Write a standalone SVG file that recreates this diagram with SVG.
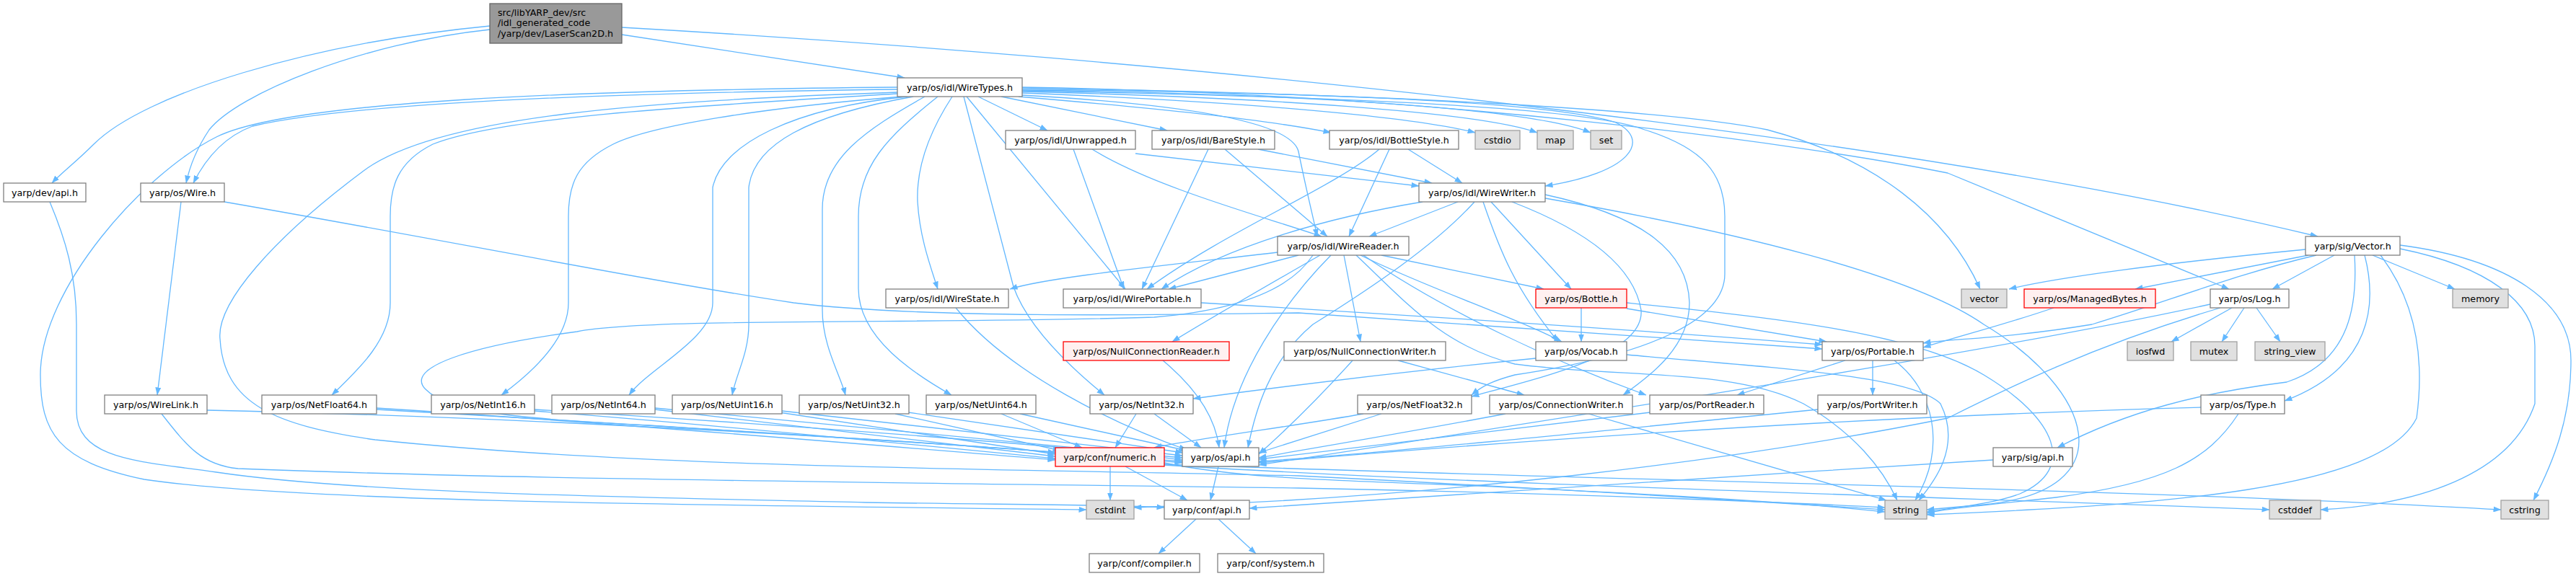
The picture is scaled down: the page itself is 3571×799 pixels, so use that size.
<svg xmlns="http://www.w3.org/2000/svg" width="3571" height="799" viewBox="0 0 3571 799">
<style>
.node rect{fill:#ffffff;stroke:#808080;stroke-width:1.3}
.node.ext rect{fill:#e0e0e0;stroke:#a0a0a0}
.node.trunc rect{fill:#fff0f0;stroke:#ff0000}
.node.root rect{fill:#999999;stroke:#666666}
.node text{font-family:"DejaVu Sans","Liberation Sans",sans-serif;font-size:12.7px;fill:#000000;text-anchor:middle}
.node.root text{text-anchor:start}
.edges path{fill:none;stroke:#63b8ff;stroke-width:1.3;marker-end:url(#arr)}
</style>
<defs>
<marker id="arr" viewBox="0 0 11 8" refX="10.5" refY="4" markerWidth="11" markerHeight="8" orient="auto" markerUnits="userSpaceOnUse"><path d="M0,0 L11,4 L0,8 z" fill="#63b8ff" stroke="none"/></marker>
</defs>
<rect width="3571" height="799" fill="#ffffff"/>
<g class="edges" id="edges">
<path d="M679,36 C430,60 200,130 130,200 C105,225 85,240 72,254"/>
<path d="M679,41 C500,60 330,130 290,180 C270,210 262,235 258,254"/>
<path d="M862,48 L1254,108"/>
<path d="M862,38 C1600,80 2600,180 3213,328"/>
<path d="M69,280 C90,330 106,380 106,450 L106,570 C106,640 200,640 300,655 C500,685 900,690 1200,697 C1400,700 1550,700 1614,704"/>
<path d="M251,280 L218,548"/>
<path d="M311,280 C600,330 900,390 1100,420 C1300,445 1700,435 1800,434 L2526,484"/>
<path d="M1244,124 C900,128 500,140 350,175 C310,190 285,220 268,254"/>
<path d="M1244,121 C800,125 400,140 300,190 C200,240 56,400 56,520 C56,600 80,640 200,665 C400,695 900,700 1506,707"/>
<path d="M1244,128 C900,140 600,160 500,240 C380,330 300,420 305,470 C310,560 380,590 520,610 C900,650 1400,650 1800,660 C2200,680 2500,700 2613,707"/>
<path d="M1244,130 C1000,145 700,160 600,200 C550,225 541,260 541,300 L541,420 C541,470 500,510 460,548"/>
<path d="M1250,134 C1050,150 900,175 850,200 C800,225 788,255 788,300 L788,420 C788,470 740,515 695,548"/>
<path d="M1258,134 C1100,150 1000,200 988,260 L988,420 C988,470 900,510 872,548"/>
<path d="M1266,134 C1120,160 1045,200 1038,260 L1038,450 C1038,490 1020,520 1015,548"/>
<path d="M1282,134 C1200,180 1140,220 1140,290 L1140,430 C1140,480 1165,520 1172,548"/>
<path d="M1300,134 C1230,190 1190,230 1190,300 L1190,400 C1190,470 1270,520 1319,548"/>
<path d="M1320,134 C1290,180 1270,230 1272,280 C1275,330 1290,370 1300,401"/>
<path d="M1336,134 L1405,398 C1420,440 1460,490 1531,548"/>
<path d="M1340,134 L1560,401"/>
<path d="M1356,134 L1452,181"/>
<path d="M1388,134 L1618,181"/>
<path d="M1412,134 C1600,150 1750,165 1845,184"/>
<path d="M1417,129 C1700,140 1950,160 2045,184"/>
<path d="M1417,127 C1750,135 2050,155 2131,184"/>
<path d="M1417,125 C1800,130 2120,150 2205,184"/>
<path d="M1417,124 C1800,128 2150,140 2240,170 C2290,195 2260,240 2142,258"/>
<path d="M1417,122 C1900,130 2300,150 2450,180 C2600,220 2700,300 2745,401"/>
<path d="M1417,121 C2000,130 2500,200 2700,240 L3090,401"/>
<path d="M1417,126 C1900,135 2200,150 2280,180 C2360,205 2391,240 2391,300 L2391,380 C2391,440 2300,490 2100,520 C2070,528 2055,535 2040,548"/>
<path d="M1417,132 C1650,145 1790,170 1800,210 C1810,260 1820,300 1826,328"/>
<path d="M1744,207 L1985,254"/>
<path d="M1574,213 L1967,258"/>
<path d="M1952,207 L2027,254"/>
<path d="M1926,207 L1870,328"/>
<path d="M1912,207 C1850,260 1700,320 1590,401"/>
<path d="M1698,207 L1840,328"/>
<path d="M1675,207 L1583,401"/>
<path d="M1514,207 C1600,260 1750,300 1832,328"/>
<path d="M1488,207 L1558,401"/>
<path d="M2021,280 L1898,328"/>
<path d="M1972,280 C1850,300 1700,340 1610,401"/>
<path d="M2067,280 L2178,401"/>
<path d="M2056,280 C2080,350 2100,400 2160,474"/>
<path d="M2142,275 C2400,320 2650,380 2750,450 C2900,540 2950,680 2750,700 L2671,707"/>
<path d="M2142,270 C2280,300 2340,350 2342,420 C2342,480 2290,520 2250,548"/>
<path d="M2096,280 C2200,320 2265,370 2275,430 C2280,490 2150,520 2040,550"/>
<path d="M2044,280 C1990,340 1900,400 1820,450 C1760,500 1740,570 1730,621"/>
<path d="M1771,350 C1600,370 1450,385 1400,401"/>
<path d="M1800,354 L1620,401"/>
<path d="M1830,354 C1750,400 1680,440 1625,474"/>
<path d="M1863,354 L1886,474"/>
<path d="M1915,354 L2140,401"/>
<path d="M1886,354 C1980,400 2100,440 2165,474"/>
<path d="M1890,354 C2000,430 2150,500 2282,548"/>
<path d="M1880,354 C1950,420 2000,480 2100,505 C2250,525 2400,510 2500,560 C2570,600 2610,650 2630,694"/>
<path d="M1845,354 C1780,420 1710,520 1697,621"/>
<path d="M1820,354 C1790,400 1720,430 1600,440 C1300,450 900,440 800,460 C650,480 560,510 590,540 C620,570 700,580 900,590 C1200,610 1400,620 1463,628"/>
<path d="M2192,427 L2192,474"/>
<path d="M2255,428 L2532,474"/>
<path d="M2255,420 C2450,440 2650,460 2750,520 C2850,580 2880,650 2800,685 C2760,700 2700,705 2671,710"/>
<path d="M2129,497 C1900,520 1750,540 1654,553"/>
<path d="M2255,492 C2450,510 2650,520 2690,560 C2720,620 2680,670 2660,694"/>
<path d="M2626,500 C2680,540 2700,620 2655,694"/>
<path d="M2558,500 L2408,548"/>
<path d="M2596,500 L2596,548"/>
<path d="M1938,500 L2113,548"/>
<path d="M1875,500 C1830,550 1790,590 1745,630"/>
<path d="M2202,574 L2615,694"/>
<path d="M2087,574 C1950,600 1800,625 1745,635"/>
<path d="M2288,572 C2050,600 1850,625 1745,637"/>
<path d="M2520,568 C2200,600 1900,630 1745,640"/>
<path d="M1915,574 L1745,628"/>
<path d="M1890,574 C1800,590 1650,610 1600,621"/>
<path d="M3051,565 C2500,580 2000,620 1745,642"/>
<path d="M3103,574 C3060,640 3000,670 2850,690 C2760,700 2700,705 2671,712"/>
<path d="M3064,422 C2800,480 2300,560 1745,645"/>
<path d="M3078,427 C2900,480 2780,540 2700,580 C2400,640 2000,690 1572,704"/>
<path d="M3094,427 L3010,474"/>
<path d="M3111,427 L3080,474"/>
<path d="M3128,427 L3161,474"/>
<path d="M2847,427 C2780,450 2720,465 2666,482"/>
<path d="M3196,346 C3000,365 2850,385 2785,401"/>
<path d="M3200,354 L2960,401"/>
<path d="M3211,354 C3100,380 3000,420 2900,450 C2780,470 2700,470 2666,476"/>
<path d="M3236,354 L3150,401"/>
<path d="M3289,354 L3403,401"/>
<path d="M3264,354 C3268,420 3260,500 3170,530 C3050,545 2950,570 2852,621"/>
<path d="M3278,354 C3295,420 3290,510 3167,556"/>
<path d="M3300,354 C3350,420 3361,500 3350,580 C3300,680 3000,700 2671,714"/>
<path d="M3327,345 C3450,370 3514,420 3514,480 L3514,560 C3480,660 3350,700 3217,707"/>
<path d="M3327,340 C3480,360 3564,420 3564,500 C3564,580 3540,640 3512,694"/>
<path d="M2763,638 C2400,660 2000,690 1732,705"/>
<path d="M1575,574 L1546,621"/>
<path d="M1600,574 L1665,621"/>
<path d="M1612,500 C1660,540 1685,580 1690,621"/>
<path d="M1388,574 L1500,621"/>
<path d="M1414,574 L1645,625"/>
<path d="M1241,574 L1470,625"/>
<path d="M1259,572 L1640,628"/>
<path d="M1080,572 L1463,630"/>
<path d="M1084,570 L1639,632"/>
<path d="M908,568 L1463,633"/>
<path d="M908,566 L1639,635"/>
<path d="M741,570 C1000,590 1300,620 1463,636"/>
<path d="M741,568 C1100,590 1500,620 1639,638"/>
<path d="M522,566 C900,590 1300,625 1463,638"/>
<path d="M522,568 C1000,595 1450,625 1639,640"/>
<path d="M287,569 C800,580 1400,620 1639,642"/>
<path d="M224,574 C260,620 280,645 330,650 C700,665 1300,670 1800,677 C2200,685 2500,698 2613,704"/>
<path d="M1325,427 C1400,520 1550,590 1645,624"/>
<path d="M1665,420 C2000,440 2300,460 2526,478"/>
<path d="M1689,647 L1678,694"/>
<path d="M1560,647 L1646,694"/>
<path d="M1539,647 L1539,694"/>
<path d="M1614,642 C1700,660 1800,665 2000,672 C2300,685 2500,698 2613,710"/>
<path d="M1614,645 C2000,670 2700,690 3146,707"/>
<path d="M1614,644 C2200,665 3000,680 3467,707"/>
<path d="M1658,720 L1606,768"/>
<path d="M1689,720 L1741,768"/>
</g>
<g id="n_root" class="node root"><rect x="679" y="5" width="183" height="55"/><text x="690" y="21.5">src/libYARP_dev/src</text><text x="690" y="36">/idl_generated_code</text><text x="690" y="50.5">/yarp/dev/LaserScan2D.h</text></g>
<g id="n_devapi" class="node"><rect x="5" y="254" width="114" height="26"/><text x="62" y="271.5">yarp/dev/api.h</text></g>
<g id="n_wire" class="node"><rect x="195" y="254" width="116" height="26"/><text x="253" y="271.5">yarp/os/Wire.h</text></g>
<g id="n_wiretypes" class="node"><rect x="1244" y="108" width="173" height="26"/><text x="1330.5" y="125.5">yarp/os/idl/WireTypes.h</text></g>
<g id="n_unwrapped" class="node"><rect x="1394" y="181" width="180" height="26"/><text x="1484" y="198.5">yarp/os/idl/Unwrapped.h</text></g>
<g id="n_barestyle" class="node"><rect x="1597" y="181" width="170" height="26"/><text x="1682" y="198.5">yarp/os/idl/BareStyle.h</text></g>
<g id="n_bottlestyle" class="node"><rect x="1843" y="181" width="179" height="26"/><text x="1932.5" y="198.5">yarp/os/idl/BottleStyle.h</text></g>
<g id="n_cstdio" class="node ext"><rect x="2045" y="181" width="62" height="26"/><text x="2076" y="198.5">cstdio</text></g>
<g id="n_map" class="node ext"><rect x="2131" y="181" width="50" height="26"/><text x="2156" y="198.5">map</text></g>
<g id="n_set" class="node ext"><rect x="2205" y="181" width="43" height="26"/><text x="2226.5" y="198.5">set</text></g>
<g id="n_wirewriter" class="node"><rect x="1967" y="254" width="175" height="26"/><text x="2054.5" y="271.5">yarp/os/idl/WireWriter.h</text></g>
<g id="n_wirereader" class="node"><rect x="1771" y="328" width="182" height="26"/><text x="1862" y="345.5">yarp/os/idl/WireReader.h</text></g>
<g id="n_sigvector" class="node"><rect x="3196" y="328" width="131" height="26"/><text x="3261.5" y="345.5">yarp/sig/Vector.h</text></g>
<g id="n_wirestate" class="node"><rect x="1228" y="401" width="170" height="26"/><text x="1313" y="418.5">yarp/os/idl/WireState.h</text></g>
<g id="n_wireportable" class="node"><rect x="1474" y="401" width="191" height="26"/><text x="1569.5" y="418.5">yarp/os/idl/WirePortable.h</text></g>
<g id="n_bottle" class="node trunc"><rect x="2129" y="401" width="126" height="26"/><text x="2192" y="418.5">yarp/os/Bottle.h</text></g>
<g id="n_vector" class="node ext"><rect x="2719" y="401" width="63" height="26"/><text x="2750.5" y="418.5">vector</text></g>
<g id="n_managedbytes" class="node trunc"><rect x="2806" y="401" width="182" height="26"/><text x="2897" y="418.5">yarp/os/ManagedBytes.h</text></g>
<g id="n_log" class="node"><rect x="3064" y="401" width="109" height="26"/><text x="3118.5" y="418.5">yarp/os/Log.h</text></g>
<g id="n_memory" class="node ext"><rect x="3400" y="401" width="77" height="26"/><text x="3438.5" y="418.5">memory</text></g>
<g id="n_nullconnreader" class="node trunc"><rect x="1474" y="474" width="230" height="26"/><text x="1589" y="491.5">yarp/os/NullConnectionReader.h</text></g>
<g id="n_nullconnwriter" class="node"><rect x="1780" y="474" width="224" height="26"/><text x="1892" y="491.5">yarp/os/NullConnectionWriter.h</text></g>
<g id="n_vocab" class="node"><rect x="2129" y="474" width="126" height="26"/><text x="2192" y="491.5">yarp/os/Vocab.h</text></g>
<g id="n_portable" class="node"><rect x="2526" y="474" width="140" height="26"/><text x="2596" y="491.5">yarp/os/Portable.h</text></g>
<g id="n_iosfwd" class="node ext"><rect x="2949" y="474" width="64" height="26"/><text x="2981" y="491.5">iosfwd</text></g>
<g id="n_mutex" class="node ext"><rect x="3037" y="474" width="64" height="26"/><text x="3069" y="491.5">mutex</text></g>
<g id="n_stringview" class="node ext"><rect x="3126" y="474" width="97" height="26"/><text x="3174.5" y="491.5">string_view</text></g>
<g id="n_wirelink" class="node"><rect x="145" y="548" width="142" height="26"/><text x="216" y="565.5">yarp/os/WireLink.h</text></g>
<g id="n_netfloat64" class="node"><rect x="363" y="548" width="159" height="26"/><text x="442.5" y="565.5">yarp/os/NetFloat64.h</text></g>
<g id="n_netint16" class="node"><rect x="598" y="548" width="143" height="26"/><text x="669.5" y="565.5">yarp/os/NetInt16.h</text></g>
<g id="n_netint64" class="node"><rect x="765" y="548" width="143" height="26"/><text x="836.5" y="565.5">yarp/os/NetInt64.h</text></g>
<g id="n_netuint16" class="node"><rect x="932" y="548" width="152" height="26"/><text x="1008" y="565.5">yarp/os/NetUint16.h</text></g>
<g id="n_netuint32" class="node"><rect x="1108" y="548" width="152" height="26"/><text x="1184" y="565.5">yarp/os/NetUint32.h</text></g>
<g id="n_netuint64" class="node"><rect x="1284" y="548" width="152" height="26"/><text x="1360" y="565.5">yarp/os/NetUint64.h</text></g>
<g id="n_netint32" class="node"><rect x="1511" y="548" width="143" height="26"/><text x="1582.5" y="565.5">yarp/os/NetInt32.h</text></g>
<g id="n_netfloat32" class="node"><rect x="1882" y="548" width="158" height="26"/><text x="1961" y="565.5">yarp/os/NetFloat32.h</text></g>
<g id="n_connwriter" class="node"><rect x="2065" y="548" width="198" height="26"/><text x="2164" y="565.5">yarp/os/ConnectionWriter.h</text></g>
<g id="n_portreader" class="node"><rect x="2287" y="548" width="158" height="26"/><text x="2366" y="565.5">yarp/os/PortReader.h</text></g>
<g id="n_portwriter" class="node"><rect x="2520" y="548" width="151" height="26"/><text x="2595.5" y="565.5">yarp/os/PortWriter.h</text></g>
<g id="n_type" class="node"><rect x="3051" y="548" width="116" height="26"/><text x="3109" y="565.5">yarp/os/Type.h</text></g>
<g id="n_numeric" class="node trunc"><rect x="1463" y="621" width="151" height="26"/><text x="1538.5" y="638.5">yarp/conf/numeric.h</text></g>
<g id="n_osapi" class="node"><rect x="1639" y="621" width="106" height="26"/><text x="1692" y="638.5">yarp/os/api.h</text></g>
<g id="n_sigapi" class="node"><rect x="2763" y="621" width="110" height="26"/><text x="2818" y="638.5">yarp/sig/api.h</text></g>
<g id="n_cstdint" class="node ext"><rect x="1506" y="694" width="66" height="26"/><text x="1539" y="711.5">cstdint</text></g>
<g id="n_confapi" class="node"><rect x="1614" y="694" width="118" height="26"/><text x="1673" y="711.5">yarp/conf/api.h</text></g>
<g id="n_string" class="node ext"><rect x="2613" y="694" width="58" height="26"/><text x="2642" y="711.5">string</text></g>
<g id="n_cstddef" class="node ext"><rect x="3146" y="694" width="71" height="26"/><text x="3181.5" y="711.5">cstddef</text></g>
<g id="n_cstring" class="node ext"><rect x="3467" y="694" width="66" height="26"/><text x="3500" y="711.5">cstring</text></g>
<g id="n_compiler" class="node"><rect x="1510" y="768" width="153" height="26"/><text x="1586.5" y="785.5">yarp/conf/compiler.h</text></g>
<g id="n_system" class="node"><rect x="1688" y="768" width="147" height="26"/><text x="1761.5" y="785.5">yarp/conf/system.h</text></g>
</svg>
